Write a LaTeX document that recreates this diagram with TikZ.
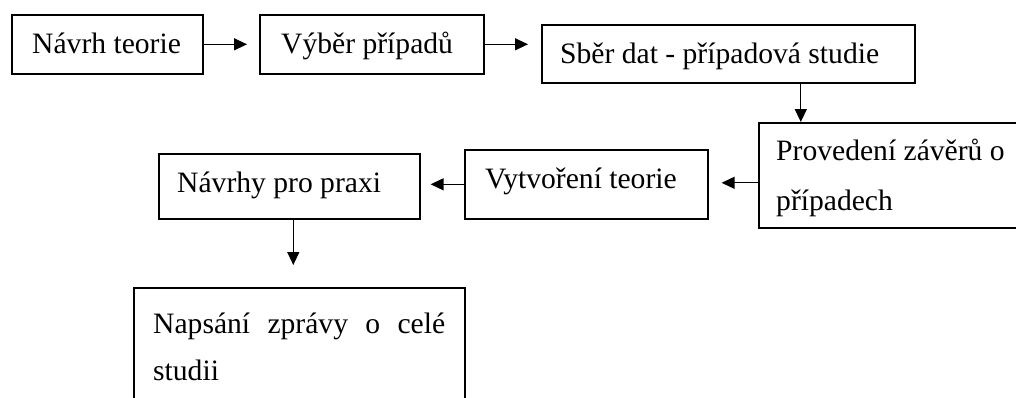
\documentclass[tikz,border=0pt]{standalone}
\usepackage{fontspec}
\setmainfont{Liberation Serif}
\usetikzlibrary{arrows.meta,calc}

\tikzset{
  box/.style={draw, line width=1.6pt, rectangle, anchor=north west, inner sep=0pt},
  txt/.style={anchor=base west, inner sep=0pt,
    font=\fontsize{29.6}{50}\selectfont},
  arr/.style={line width=1.3pt,
    -{Triangle[length=13pt,width=12pt]}},
}

\begin{document}
\begin{tikzpicture}[x=1pt,y=-1pt]
  \clip (0,0) rectangle (1016,397);
  \fill[white] (0,0) rectangle (1016,397);

  % boxes
  \node[box, minimum width=191pt, minimum height=59pt] (b1) at (11,14) {};
  \node[box, minimum width=224pt, minimum height=59pt] (b2) at (259,14) {};
  \node[box, minimum width=373pt, minimum height=58pt] (b3) at (541,24) {};
  \node[box, minimum width=280pt, minimum height=105pt] (b4) at (758,122) {};
  \node[box, minimum width=243pt, minimum height=69pt] (b5) at (464,149) {};
  \node[box, minimum width=261pt, minimum height=65pt] (b6) at (158,153) {};
  \node[box, minimum width=331pt, minimum height=140pt] (b7) at (133,287) {};

  % texts
  \node[txt] (t1) at (32,53) {Návrh teorie};
  \node[txt] (t2) at (281,53) {Výběr případů};
  \node[txt] (t3) at (560,63) {Sběr dat - případová studie};
  \node[txt] (t4a) at (776,160) {Provedení závěrů o};
  \node[txt] (t4b) at (776,210) {případech};
  \node[txt] (t5) at (485,188) {Vytvoření teorie};
  \node[txt] (t6) at (177,192) {Návrhy pro praxi};
  \node[txt] (t7a) at (153,333) {\makebox[292pt][s]{Napsání zprávy o celé}};
  \node[txt] (t7b) at (153,380) {studii};

  % connectors
  \draw[arr, shorten >=12pt] (b1.east) -- (b1.east -| b2.west);
  \draw[arr, shorten >=13pt] (b2.east) -- (b2.east -| b3.west);
  \draw[arr] ([xshift=72.5pt]b3.south) coordinate (a3) -- (a3 |- b4.north);
  \draw[arr, shorten >=13pt] ([yshift=-7.5pt]b4.west) coordinate (a4)
    -- (a4 -| b5.east);
  \draw[arr, shorten >=10pt] (b5.west) -- (b5.west -| b6.east);
  \draw[arr, shorten >=22pt] ([xshift=4pt]b6.south) coordinate (a6)
    -- (a6 |- b7.north);
\end{tikzpicture}
\end{document}
